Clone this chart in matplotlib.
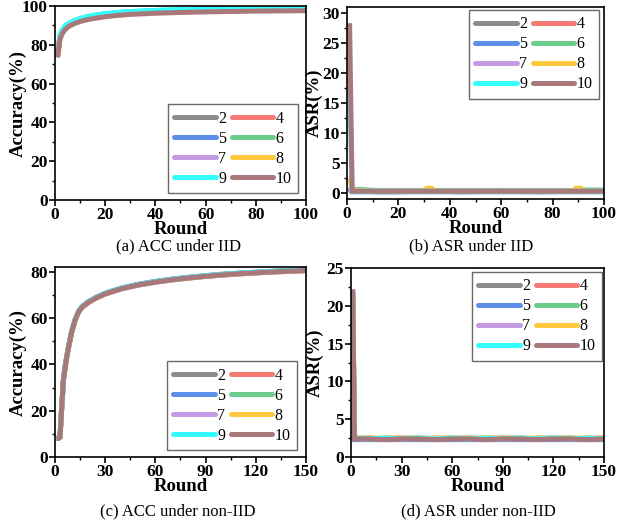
import matplotlib
matplotlib.use("Agg")
import matplotlib.pyplot as plt
from matplotlib.ticker import MultipleLocator

plt.rcParams["font.family"] = ["Liberation Serif", "DejaVu Serif"]
plt.rcParams["axes.linewidth"] = 1.2

LABELS = ["2", "4", "5", "6", "7", "8", "9", "10"]
COLORS = ["#8c8c8c", "#f47a74", "#5b8fe8", "#6ccc8c",
          "#c49ae2", "#ffc83c", "#33ffff", "#a9787a"]

# (a) accuracy, IID
r_acc_iid = [1, 2, 3, 4, 5, 6, 8, 10, 13, 16, 20, 25, 30, 40, 50, 60, 70, 80, 90, 100]
acc_iid = {
    "2":  [74.0, 84.0, 87.0, 88.7, 89.8, 90.7, 91.9, 92.8, 93.8, 94.5, 95.3, 96.0, 96.4, 97.0, 97.4, 97.7, 97.9, 98.1, 98.2, 98.3],
    "4":  [74.2, 84.3, 87.3, 89.0, 90.1, 91.0, 92.2, 93.1, 94.1, 94.8, 95.6, 96.3, 96.7, 97.3, 97.7, 98.0, 98.2, 98.4, 98.5, 98.6],
    "5":  [74.4, 84.6, 87.6, 89.3, 90.4, 91.2, 92.4, 93.3, 94.3, 95.1, 95.8, 96.5, 96.9, 97.5, 97.9, 98.2, 98.4, 98.6, 98.7, 98.8],
    "6":  [74.5, 84.8, 87.8, 89.5, 90.6, 91.4, 92.6, 93.5, 94.5, 95.3, 96.0, 96.7, 97.1, 97.7, 98.1, 98.4, 98.6, 98.8, 98.9, 99.0],
    "7":  [74.1, 84.1, 87.1, 88.8, 89.9, 90.8, 92.0, 92.9, 93.9, 94.6, 95.4, 96.1, 96.5, 97.1, 97.5, 97.8, 98.0, 98.2, 98.3, 98.4],
    "8":  [74.0, 83.8, 86.8, 88.5, 89.6, 90.5, 91.7, 92.6, 93.6, 94.3, 95.1, 95.8, 96.2, 96.8, 97.2, 97.5, 97.7, 97.9, 98.0, 98.1],
    "9":  [74.6, 84.9, 87.9, 89.6, 90.7, 91.5, 92.7, 93.6, 94.6, 95.4, 96.1, 96.8, 97.2, 97.8, 98.2, 98.5, 98.7, 98.9, 99.0, 99.1],
    "10": [73.5, 83.0, 86.0, 87.8, 89.0, 89.9, 91.1, 92.0, 93.0, 93.7, 94.5, 95.2, 95.7, 96.3, 96.7, 97.0, 97.2, 97.4, 97.5, 97.6],
}

# (b) attack success rate, IID
r_asr_iid = [1, 2, 3, 5, 8, 12, 20, 30, 31, 33, 34, 45, 60, 75, 88, 89, 91, 92, 100]
asr_iid = {
    "2":  [0.6, 0.3, 0.3, 0.3, 0.3, 0.2, 0.2, 0.3, 0.3, 0.3, 0.3, 0.2, 0.3, 0.2, 0.3, 0.3, 0.3, 0.3, 0.3],
    "4":  [0.5, 0.4, 0.3, 0.3, 0.3, 0.3, 0.3, 0.3, 0.3, 0.3, 0.3, 0.3, 0.3, 0.3, 0.3, 0.3, 0.3, 0.3, 0.3],
    "5":  [0.7, 0.2, 0.2, 0.2, 0.2, 0.2, 0.2, 0.2, 0.2, 0.2, 0.2, 0.2, 0.2, 0.2, 0.2, 0.2, 0.2, 0.2, 0.2],
    "6":  [0.5, 0.6, 0.6, 0.6, 0.5, 0.4, 0.4, 0.4, 0.4, 0.4, 0.4, 0.4, 0.4, 0.4, 0.4, 0.4, 0.5, 0.5, 0.5],
    "7":  [1.0, 0.3, 0.3, 0.3, 0.3, 0.3, 0.3, 0.3, 0.3, 0.3, 0.3, 0.3, 0.3, 0.3, 0.3, 0.3, 0.3, 0.3, 0.3],
    "8":  [2.5, 0.7, 0.5, 0.4, 0.3, 0.3, 0.3, 0.3, 0.8, 0.8, 0.3, 0.3, 0.3, 0.3, 0.3, 0.8, 0.8, 0.3, 0.3],
    "9":  [17.3, 0.3, 0.3, 0.3, 0.3, 0.3, 0.3, 0.3, 0.3, 0.3, 0.3, 0.3, 0.3, 0.3, 0.3, 0.3, 0.3, 0.3, 0.3],
    "10": [28.3, 0.3, 0.3, 0.3, 0.3, 0.3, 0.3, 0.3, 0.3, 0.3, 0.3, 0.3, 0.3, 0.3, 0.3, 0.3, 0.3, 0.3, 0.3],
}

# (c) accuracy, non-IID
r_acc_non = [1, 2, 3, 4, 5, 6, 7, 8, 10, 12, 14, 16, 20, 25, 30, 40, 50, 60, 70, 80, 90, 100, 110, 120, 130, 140, 150]
acc_non = {
    "2":  [8.1, 8.1, 8.7, 21.2, 33.2, 38.7, 43.2, 47.2, 54.2, 59.2, 62.7, 64.7, 67.0, 69.0, 70.6, 72.9, 74.5, 75.7, 76.7, 77.5, 78.2, 78.8, 79.3, 79.7, 80.1, 80.4, 80.7],
    "4":  [8.0, 8.0, 8.6, 21.0, 33.0, 38.5, 43.0, 47.0, 54.0, 59.0, 62.5, 64.5, 66.8, 68.8, 70.4, 72.7, 74.3, 75.5, 76.5, 77.3, 78.0, 78.6, 79.1, 79.5, 79.9, 80.2, 80.5],
    "5":  [8.2, 8.2, 8.8, 21.3, 33.3, 38.8, 43.3, 47.3, 54.3, 59.3, 62.8, 64.8, 67.1, 69.1, 70.7, 73.0, 74.6, 75.8, 76.8, 77.6, 78.3, 78.9, 79.4, 79.8, 80.2, 80.5, 80.8],
    "6":  [8.1, 8.1, 8.7, 21.1, 33.1, 38.6, 43.1, 47.1, 54.1, 59.1, 62.6, 64.6, 66.9, 68.9, 70.5, 72.8, 74.4, 75.6, 76.6, 77.4, 78.1, 78.7, 79.2, 79.6, 80.0, 80.3, 80.6],
    "7":  [8.0, 8.0, 8.6, 20.9, 32.9, 38.4, 42.9, 46.9, 53.9, 58.9, 62.4, 64.4, 66.7, 68.7, 70.3, 72.6, 74.2, 75.4, 76.4, 77.2, 77.9, 78.5, 79.0, 79.4, 79.8, 80.1, 80.4],
    "8":  [8.0, 8.0, 8.6, 21.0, 33.0, 38.5, 43.0, 47.0, 54.0, 59.0, 62.5, 64.5, 66.8, 68.8, 70.4, 72.7, 74.3, 75.5, 76.5, 77.3, 78.0, 78.6, 79.1, 79.5, 79.9, 80.2, 80.5],
    "9":  [8.1, 8.1, 8.7, 21.2, 33.2, 38.7, 43.2, 47.2, 54.2, 59.2, 62.7, 64.7, 67.0, 69.0, 70.6, 72.9, 74.5, 75.7, 76.7, 77.5, 78.2, 78.8, 79.3, 79.7, 80.1, 80.4, 80.7],
    "10": [8.0, 8.0, 8.5, 21.0, 33.0, 38.5, 43.0, 47.0, 54.0, 59.0, 62.5, 64.5, 66.8, 68.8, 70.4, 72.7, 74.3, 75.5, 76.5, 77.3, 78.0, 78.6, 79.1, 79.5, 79.9, 80.2, 80.5],
}

# (d) attack success rate, non-IID
r_asr_non = [1, 2, 10, 20, 30, 40, 50, 60, 70, 80, 90, 100, 110, 120, 130, 140, 150]
asr_non = {
    "2":  [21.8, 2.4, 2.5, 2.4, 2.4, 2.5, 2.4, 2.4, 2.5, 2.4, 2.4, 2.5, 2.4, 2.4, 2.5, 2.4, 2.4],
    "4":  [21.6, 2.5, 2.4, 2.5, 2.5, 2.4, 2.5, 2.5, 2.4, 2.5, 2.5, 2.4, 2.5, 2.5, 2.4, 2.5, 2.5],
    "5":  [21.9, 2.3, 2.3, 2.3, 2.3, 2.3, 2.3, 2.3, 2.3, 2.3, 2.3, 2.3, 2.3, 2.3, 2.3, 2.3, 2.3],
    "6":  [21.7, 2.5, 2.5, 2.4, 2.5, 2.5, 2.4, 2.5, 2.5, 2.4, 2.5, 2.5, 2.4, 2.5, 2.5, 2.4, 2.5],
    "7":  [21.5, 2.4, 2.4, 2.4, 2.4, 2.4, 2.4, 2.4, 2.4, 2.4, 2.4, 2.4, 2.4, 2.4, 2.4, 2.4, 2.4],
    "8":  [21.6, 2.5, 2.5, 2.5, 2.5, 2.5, 2.5, 2.5, 2.5, 2.5, 2.5, 2.5, 2.5, 2.5, 2.5, 2.5, 2.5],
    "9":  [22.0, 2.5, 2.4, 2.5, 2.4, 2.5, 2.4, 2.5, 2.4, 2.5, 2.4, 2.5, 2.4, 2.5, 2.4, 2.5, 2.4],
    "10": [22.2, 2.4, 2.4, 2.3, 2.4, 2.4, 2.3, 2.4, 2.4, 2.3, 2.4, 2.4, 2.3, 2.4, 2.4, 2.3, 2.4],
}


def draw(ax, rounds, series, ylabel, ylabel_x, xlim, ylim, xstep, ystep,
         leg_loc, leg_anchor):
    lines = {}
    for lab, col in zip(LABELS, COLORS):
        lines[lab], = ax.plot(rounds, series[lab], color=col, lw=3.6, label=lab,
                              solid_capstyle="butt", solid_joinstyle="miter")
    ax.set_xlim(*xlim)
    ax.set_ylim(*ylim)
    ax.xaxis.set_major_locator(MultipleLocator(xstep))
    ax.xaxis.set_minor_locator(MultipleLocator(xstep / 2))
    ax.yaxis.set_major_locator(MultipleLocator(ystep))
    ax.yaxis.set_minor_locator(MultipleLocator(ystep / 2))
    ax.tick_params(which="major", direction="out", length=4, width=1.2,
                   labelsize=12.5, pad=1)
    ax.tick_params(which="minor", direction="out", length=2.5, width=1.0)
    for t in ax.get_xticklabels() + ax.get_yticklabels():
        t.set_fontweight("bold")
    ax.set_xlabel("Round", fontsize=13.5, fontweight="bold", labelpad=-1.5)
    ax.set_ylabel(ylabel, fontsize=13.5, fontweight="bold")
    ax.yaxis.set_label_coords(ylabel_x, 0.5)

    # legend fills column-wise, so feed it 2,5,7,9 then 4,6,8,10
    order = ["2", "5", "7", "9", "4", "6", "8", "10"]
    leg = ax.legend([lines[k] for k in order], order, ncol=2, loc=leg_loc,
                    bbox_to_anchor=leg_anchor, borderaxespad=0, fontsize=11.5,
                    handlelength=2.6, handletextpad=0.15, columnspacing=0.35,
                    labelspacing=0.25, borderpad=0.4, fancybox=False,
                    edgecolor="#444444")
    leg.get_frame().set_linewidth(1.0)
    for h in leg.get_lines():
        h.set_linewidth(3.6)
        h.set_solid_capstyle("round")


fig = plt.figure(figsize=(6.38, 5.27), dpi=100)
ax_a = fig.add_axes([0.0862, 0.6205, 0.3934, 0.368])
ax_b = fig.add_axes([0.5439, 0.6224, 0.4028, 0.3643])
ax_c = fig.add_axes([0.0862, 0.1328, 0.3934, 0.3605])
ax_d = fig.add_axes([0.5502, 0.1328, 0.3966, 0.3586])

draw(ax_a, r_acc_iid, acc_iid, "Accuracy(%)", -0.112, (0, 100), (0, 100), 20, 20,
     "lower right", (0.968, 0.036))
draw(ax_b, r_asr_iid, asr_iid, "ASR(%)", -0.093, (0, 100), (-1, 31), 20, 5,
     "upper right", (0.981, 0.984))
draw(ax_c, r_acc_non, acc_non, "Accuracy(%)", -0.112, (0, 150), (0, 82), 30, 20,
     "lower right", (0.964, 0.037))
draw(ax_d, r_asr_non, asr_non, "ASR(%)", -0.107, (0, 150), (0, 25), 30, 5,
     "upper right", (0.992, 0.979))

cap = dict(ha="center", va="center", fontsize=12)
fig.text(178 / 638, 1 - 246 / 527, "(a) ACC under IID", **cap)
fig.text(471 / 638, 1 - 246 / 527, "(b) ASR under IID", **cap)
fig.text(178 / 638, 1 - 511 / 527, "(c) ACC under non-IID", **cap)
fig.text(478 / 638, 1 - 511 / 527, "(d) ASR under non-IID", **cap)

fig.savefig("out.png", dpi=100)
